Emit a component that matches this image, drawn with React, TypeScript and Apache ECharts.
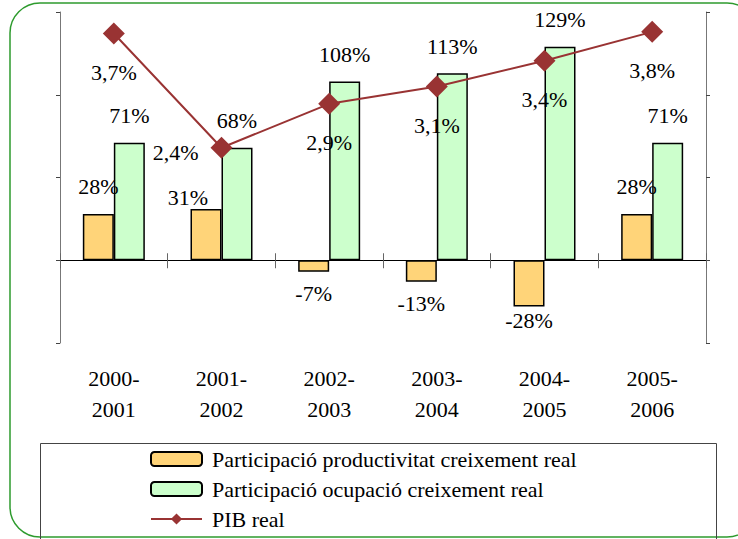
import React, { useEffect, useRef } from "react";
import * as echarts from "echarts";

const categories = ["2000-\n2001", "2001-\n2002", "2002-\n2003", "2003-\n2004", "2004-\n2005", "2005-\n2006"];
const productivitat = [28, 31, -7, -13, -28, 28];
const ocupacio = [71, 68, 108, 113, 129, 71];
const pibReal = [3.74, 2.36, 2.89, 3.1, 3.41, 3.76];

const seriesNames = [
  "Participació productivitat creixement real",
  "Participació ocupació creixement real",
  "PIB real",
];

const FONT = "Liberation Serif";

export default function App() {
  const ref = useRef<HTMLDivElement>(null);

  useEffect(() => {
    if (!ref.current) return;
    const chart = echarts.init(ref.current, undefined, { renderer: "svg" });

    const labelBase = { show: true, color: "#000", fontFamily: FONT, fontSize: 22 };

    const prodData = productivitat.map((v, i) => {
      let label: any = { position: v >= 0 ? "top" : "bottom", distance: v >= 0 ? 16 : 11 };
      if (i === 1) label = { position: "top", distance: 15, offset: [-18, 15] };
      if (i === 4) label = { position: "bottom", distance: 3 };
      return { value: v, label };
    });

    const pibData = pibReal.map((v, i) =>
      i === 1 ? { value: v, label: { position: "left", distance: 12, offset: [0, 5] } } : v
    );

    const option: any = {
      animation: false,
      backgroundColor: "#fff",
      textStyle: { fontFamily: FONT },
      grid: { left: 60, right: 32, top: 12, bottom: 196, containLabel: false },
      legend: {
        orient: "vertical",
        left: 145,
        top: 443,
        itemWidth: 51,
        itemHeight: 14,
        itemGap: 8,
        data: seriesNames,
        textStyle: { fontFamily: FONT, fontSize: 22, color: "#000", lineHeight: 22, padding: [0, 0, 0, 5] },
      },
      graphic: [
        {
          type: "rect",
          shape: { x: 10, y: 3, width: 747, height: 534, r: 30 },
          style: { fill: "none", stroke: "#2e9b2e", lineWidth: 1.5 },
          silent: true,
        },
        {
          type: "rect",
          shape: { x: 40.5, y: 443.5, width: 676, height: 120 },
          style: { fill: "none", stroke: "#444", lineWidth: 1 },
          silent: true,
        },
      ],
      xAxis: [
        {
          type: "category",
          data: categories,
          position: "bottom",
          axisLine: { show: false, onZero: false },
          axisTick: { show: false },
          axisLabel: { color: "#000", fontFamily: FONT, fontSize: 22, lineHeight: 31, margin: 20, interval: 0 },
        },
        {
          type: "category",
          data: categories,
          position: "bottom",
          axisLine: { show: true, onZero: true, onZeroAxisIndex: 0, lineStyle: { color: "#000", width: 1 } },
          axisTick: { show: true, length: 8, lineStyle: { color: "#666" } },
          axisLabel: { show: false },
        },
        {
          type: "category",
          data: categories,
          position: "bottom",
          axisLine: { show: false, onZero: true, onZeroAxisIndex: 0 },
          axisTick: { show: true, inside: true, length: 7, lineStyle: { color: "#666" } },
          axisLabel: { show: false },
        },
      ],
      yAxis: [
        {
          type: "value",
          min: -50,
          max: 150,
          interval: 50,
          position: "left",
          axisLine: { show: true, lineStyle: { color: "#777", width: 1 } },
          axisTick: { show: true, length: 4, lineStyle: { color: "#444" } },
          axisLabel: { show: false },
          splitLine: { show: false },
        },
        {
          type: "value",
          min: 0,
          max: 4,
          interval: 1,
          position: "right",
          axisLine: { show: true, lineStyle: { color: "#777", width: 1 } },
          axisTick: { show: true, length: 4, lineStyle: { color: "#444" } },
          axisLabel: { show: false },
          splitLine: { show: false },
        },
      ],
      series: [
        {
          name: seriesNames[0],
          type: "bar",
          xAxisIndex: 0,
          yAxisIndex: 0,
          barWidth: 31,
          barGap: "0%",
          data: prodData,
          itemStyle: { color: "#FFD479", borderColor: "#000", borderWidth: 1.5 },
          label: { ...labelBase, formatter: (p: any) => p.value + "%" },
        },
        {
          name: seriesNames[1],
          type: "bar",
          xAxisIndex: 0,
          yAxisIndex: 0,
          barWidth: 31,
          barGap: "0%",
          data: ocupacio,
          itemStyle: { color: "#CCFFCC", borderColor: "#000", borderWidth: 1.5 },
          label: { ...labelBase, position: "top", distance: 16, formatter: (p: any) => p.value + "%" },
        },
        {
          name: seriesNames[2],
          type: "line",
          xAxisIndex: 0,
          yAxisIndex: 1,
          data: pibData,
          symbol: "diamond",
          symbolSize: 22,
          itemStyle: { color: "#993333" },
          lineStyle: { color: "#993333", width: 2 },
          z: 5,
          label: {
            ...labelBase,
            position: "bottom",
            distance: 17,
            formatter: (p: any) => Number(p.value).toFixed(1).replace(".", ",") + "%",
          },
        },
      ],
    };

    chart.setOption(option);
    return () => chart.dispose();
  }, []);

  return (
    <div
      ref={ref}
      style={{ position: "fixed", left: 0, top: 0, width: 738, height: 539, background: "#fff" }}
    />
  );
}
